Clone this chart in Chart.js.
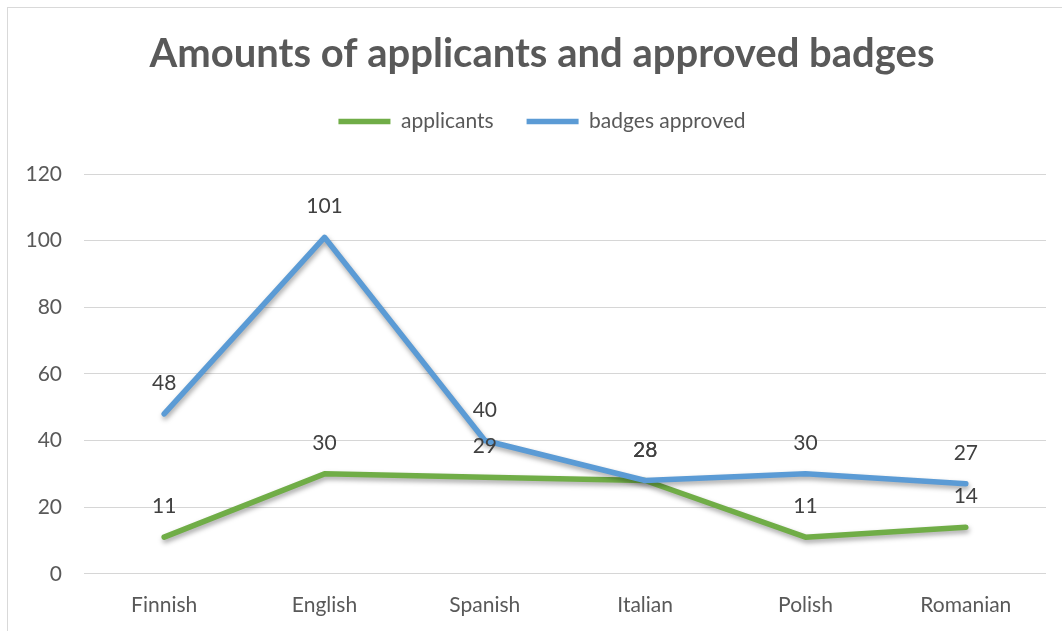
<!DOCTYPE html>
<html>
<head>
<meta charset="utf-8">
<script src="https://cdn.jsdelivr.net/npm/chart.js@4.4.1/dist/chart.umd.min.js"></script>
<style>
  html, body { margin: 0; padding: 0; background: #fff; overflow: hidden; }
  #frame { position: absolute; left: 7px; top: 7px; width: 1100px; height: 700px; border: 1px solid #d9d9d9; }
  #wrap { position: absolute; left: 0; top: 0; width: 1062px; height: 631px; }
</style>
</head>
<body>
<div id="frame"></div>
<div id="wrap"><canvas id="chart"></canvas></div>
<script>
const categories = ['Finnish', 'English', 'Spanish', 'Italian', 'Polish', 'Romanian'];
const applicants = [11, 30, 29, 28, 11, 14];
const badgesApproved = [48, 101, 40, 28, 30, 27];
const yMin = 0;
const yMax = 120;
const yStep = 20;

const FONT = 'Lato';
const TEXT = '#595959';

// soft drop shadow under the lines, like the office chart
const lineShadow = {
    id: 'lineShadow',
    beforeDatasetDraw(chart) {
        const c = chart.ctx;
        c.save();
        c.shadowColor = 'rgba(0, 0, 0, 0.35)';
        c.shadowBlur = 5;
        c.shadowOffsetX = 1;
        c.shadowOffsetY = 3;
    },
    afterDatasetDraw(chart) {
        chart.ctx.restore();
    }
};

// value labels above each point
const valueLabels = {
    id: 'valueLabels',
    afterDatasetsDraw(chart) {
        const c = chart.ctx;
        c.save();
        c.font = '21px ' + FONT;
        c.fillStyle = '#404040';
        c.textAlign = 'center';
        c.textBaseline = 'alphabetic';
        chart.data.datasets.forEach((ds, i) => {
            chart.getDatasetMeta(i).data.forEach((pt, j) => {
                c.fillText(ds.data[j], pt.x, pt.y - 24);
            });
        });
        c.restore();
    }
};

// extra space under the legend
const legendSpacer = {
    id: 'legendSpacer',
    beforeInit(chart) {
        const fit = chart.legend.fit;
        chart.legend.fit = function () {
            fit.call(this);
            this.height += 32;
        };
    }
};

new Chart(document.getElementById('chart'), {
    type: 'line',
    data: {
        labels: categories,
        datasets: [{
            label: 'applicants',
            data: applicants,
            borderColor: '#70AD47',
            backgroundColor: '#70AD47',
            borderWidth: 5.5,
            borderCapStyle: 'round',
            borderJoinStyle: 'round',
            pointRadius: 0,
            tension: 0,
            order: 1
        }, {
            label: 'badges approved',
            data: badgesApproved,
            borderColor: '#5B9BD5',
            backgroundColor: '#5B9BD5',
            borderWidth: 5.5,
            borderCapStyle: 'round',
            borderJoinStyle: 'round',
            pointRadius: 0,
            tension: 0,
            order: 0
        }]
    },
    options: {
        responsive: true,
        maintainAspectRatio: false,
        animation: false,
        layout: {
            padding: { left: 38, right: 16, top: 7, bottom: -6 }
        },
        scales: {
            x: {
                offset: true,
                grid: { display: false, drawTicks: false },
                border: { display: false },
                ticks: {
                    color: TEXT,
                    padding: 19,
                    maxRotation: 0,
                    font: { family: FONT, size: 21 }
                }
            },
            y: {
                min: yMin,
                max: yMax,
                afterFit(scale) {
                    scale.width = 46;
                    // let the tick labels run past the narrow axis box
                    scale._computeLabelArea = () => undefined;
                },
                grid: { color: '#d6d6d6', lineWidth: 1, drawTicks: false },
                border: { display: false },
                ticks: {
                    stepSize: yStep,
                    color: TEXT,
                    padding: 22,
                    font: { family: FONT, size: 21 }
                }
            }
        },
        plugins: {
            title: {
                display: true,
                text: 'Amounts of applicants and approved badges',
                color: TEXT,
                font: { family: FONT, size: 40, weight: 'bold', lineHeight: 1.2 },
                padding: { top: 23, bottom: 0 }
            },
            legend: {
                display: true,
                position: 'top',
                labels: {
                    usePointStyle: true,
                    pointStyle: 'line',
                    pointStyleWidth: 52,
                    color: TEXT,
                    padding: 33,
                    font: { family: FONT, size: 21 },
                    sort: (a, b) => a.datasetIndex - b.datasetIndex
                }
            },
            tooltip: { enabled: false }
        }
    },
    plugins: [lineShadow, valueLabels, legendSpacer]
});
</script>
</body>
</html>
